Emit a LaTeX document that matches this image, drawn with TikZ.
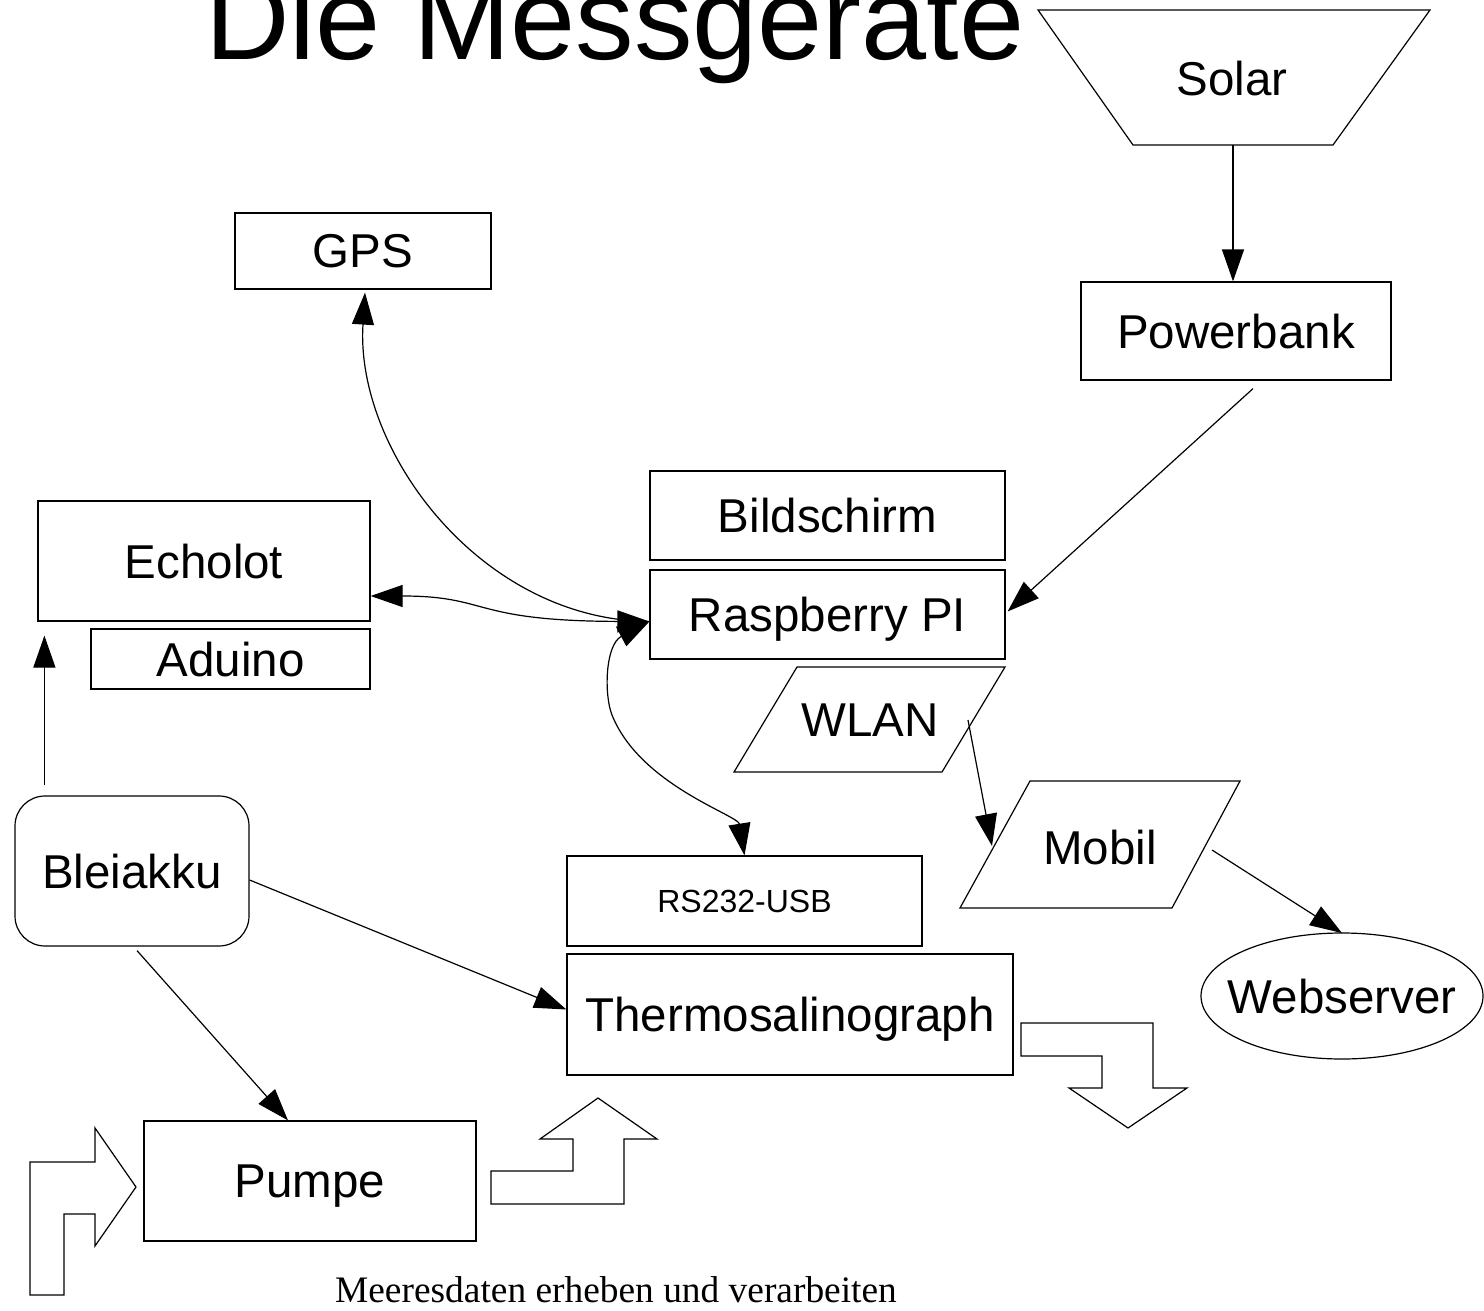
\documentclass[tikz,border=0pt]{standalone}
\usepackage{fontspec}
\setmainfont{Liberation Sans}
\newfontfamily\captionfont{Liberation Serif}
\usetikzlibrary{arrows.meta,shapes.geometric}

\begin{document}
\begin{tikzpicture}[x=0.5pt,y=-0.5pt,line width=0.6pt]
	\tikzset{>={Triangle[length=16pt,width=11pt]}}
	\tikzset{box/.style={draw,inner sep=0pt,text depth=0pt,font=\fontsize{23.75}{28}\selectfont}}
	\tikzset{txt/.style={inner sep=0pt,text depth=0pt,font=\fontsize{23.75}{28}\selectfont}}
	\useasboundingbox (0,0) rectangle (1484,1311);
	\clip (0,0) rectangle (1484,1311);
	\node[anchor=base,inner sep=0pt,font=\fontsize{58.5}{70}\selectfont] (title) at (615,60) {Die Messgeräte};
	% Solar und Powerbank
	\draw (1038,10) -- (1430,10) -- (1333,145) -- (1133,145) -- cycle;
	\node[txt] (solar) at (1232,78) {Solar};
	\coordinate (solar-s) at (1233,145);
	\node[box,minimum width=155pt,minimum height=49pt] (powerbank) at (1236,331) {Powerbank};
	% Raspberry
	\node[box,minimum width=128pt,minimum height=38pt] (gps) at (363,251) {GPS};
	\node[box,minimum width=177.5pt,minimum height=44.5pt] (bildschirm) at (827.5,515.5) {Bildschirm};
	\node[box,minimum width=177.5pt,minimum height=44.5pt] (pi) at (827.5,614.5) {Raspberry PI};
	\node[box,minimum width=166pt,minimum height=60pt] (echolot) at (204,561) {Echolot};
	\node[box,minimum width=139.5pt,minimum height=30pt] (aduino) at (230.5,659) {Aduino};
	\draw (797,667) -- (1005,667) -- (942,772) -- (734,772) -- cycle;
	\node[txt] (wlan) at (870,720) {WLAN};
	\draw (1030,781) -- (1240,781) -- (1172,908) -- (960,908) -- cycle;
	\node[txt] (mobil) at (1100,847) {Mobil};
	\draw (1342,996) ellipse [x radius=141, y radius=63];
	\node[txt] (webserver) at (1342,996) {Webserver};
	\coordinate (webserver-n) at (1342,933);
	% Messung
	\node[box,rounded corners=15pt,minimum width=117pt,minimum height=75pt] (bleiakku) at (132,871) {Bleiakku};
	\node[box,minimum width=177.5pt,minimum height=45pt,font=\fontsize{16}{19}\selectfont] (rs232) at (744.5,901) {RS232-USB};
	\node[box,minimum width=223pt,minimum height=60.5pt] (thermo) at (790,1014.5) {Thermosalinograph};
	\node[box,minimum width=166pt,minimum height=60pt] (pumpe) at (310,1181) {Pumpe};
	% Wasser
	\draw (30,1295) -- (30,1162) -- (95,1162) -- (95,1128) -- (136,1187) -- (95,1246) -- (95,1214) -- (64,1214) -- (64,1295) -- cycle;
	\draw (491,1204) -- (491,1171) -- (573,1171) -- (573,1139) -- (540,1139) -- (598,1098) -- (657,1139) -- (624,1139) -- (624,1204) -- cycle;
	\draw (1021,1023) -- (1153,1023) -- (1153,1088) -- (1187,1088) -- (1128,1128) -- (1069,1088) -- (1102,1088) -- (1102,1056) -- (1021,1056) -- cycle;
	% Verbindungen
	\coordinate (pi-w) at ([yshift=-3.5pt]pi.west);
	\coordinate (echolot-e) at ([yshift=-17.5pt]echolot.east);
	\coordinate (wlan-e) at (968,720);
	\coordinate (mobil-w) at (992,846);
	\coordinate (mobil-e) at (1212,850);
	\draw[->] (solar-s) -- (solar-s |- powerbank.north);
	\draw[->] ([shift={(17,8)}]powerbank.south) -- ([shift={(2,-3)}]pi.east);
	\draw[->] (pi-w) .. controls (480,620) and (355,450) .. ([shift={(2,3)}]gps.south);
	\draw[<->] (echolot-e) .. controls (490,596) and (470,621) .. (pi-w);
	\draw[<->] (rs232.north) .. controls (738,815) and (640,785) .. (612,715) .. controls (604,695) and (605,645) .. (pi-w);
	\draw[->] ([shift={(30,-10)}]bleiakku.north west) -- ([shift={(7,14)}]echolot.south west);
	\draw[->] ([shift={(5,4)}]bleiakku.south) -- ([shift={(-22,0)}]pumpe.north);
	\draw[->] ([shift={(0,9)}]bleiakku.east) -- ([shift={(0,-5)}]thermo.west);
	\draw[->] (wlan-e) -- (mobil-w);
	\draw[->] (mobil-e) -- (webserver-n);
	\node[anchor=base,inner sep=0pt,font=\captionfont\fontsize{18.7}{22}\selectfont] (caption) at (616,1302) {Meeresdaten erheben und verarbeiten};
\end{tikzpicture}
\end{document}
